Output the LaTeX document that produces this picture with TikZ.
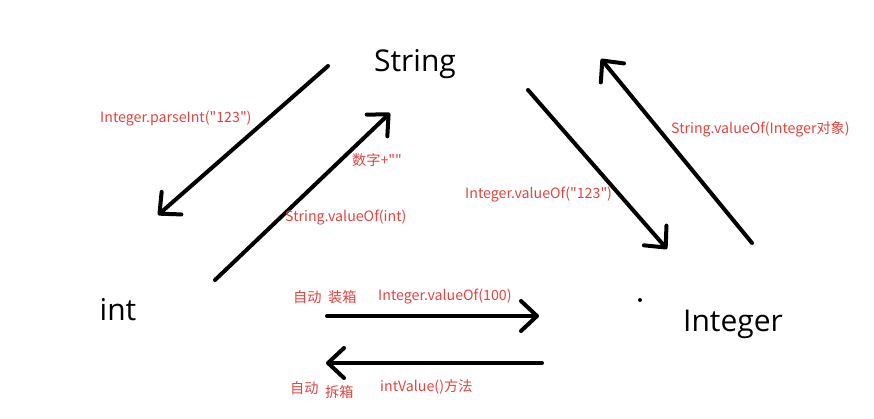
\documentclass[tikz,border=0pt]{standalone}
\usepackage{fontspec}
\setmainfont{Open Sans}
\newfontfamily\cjk{Noto Sans CJK SC}
\usetikzlibrary{arrows.meta}
\definecolor{lbl}{RGB}{228,68,62}
\tikzset{
  big/.style={font=\fontsize{30}{32}\selectfont, text=black, inner sep=0pt},
  lab/.style={font=\cjk\fontsize{14.2}{16}\selectfont, text=lbl, inner sep=0pt},
  arr/.style={line width=4pt, line cap=round, line join=round, black,
    -{Straight Barb[length=16pt,width=30pt,line cap=round,line join=round]}},
}
\begin{document}
\begin{tikzpicture}[x=1pt,y=-1pt]
\useasboundingbox (0,0) rectangle (874,418);
% main nodes
\node[big] (str) at (415,64) {String};
\node[big] (int) at (118,310) {int};
\node[big] (intg) at (733,324) {Integer};
\fill (640,300) circle (2pt);
% endpoints
\coordinate (a1) at (328,66);  \coordinate (b1) at (158,215);
\coordinate (a2) at (215,280); \coordinate (b2) at (390,113);
\coordinate (a3) at (528,90);  \coordinate (b3) at (667,249);
\coordinate (a4) at (752,243); \coordinate (b4) at (601,59);
\coordinate (a5) at (327,316); \coordinate (b5) at (539,316);
\coordinate (a6) at (542,363); \coordinate (b6) at (326,363);
\draw[arr] (a1) -- (b1);
\draw[arr] (a2) -- (b2);
\draw[arr] (a3) -- (b3);
\draw[arr] (a4) -- (b4);
\draw[arr] (a5) -- (b5);
\draw[arr] (a6) -- (b6);
% labels
\node[lab, anchor=west] (l1) at (100,118) {Integer.parseInt("123")};
\node[lab, anchor=west] (l2) at (352,160) {数字+""};
\node[lab, anchor=west] (l3) at (285,217) {String.valueOf(int)};
\node[lab, anchor=west] (l4) at (465,194) {Integer.valueOf("123")};
\node[lab, anchor=west] (l5) at (671,129) {String.valueOf(Integer对象)};
\node[lab, anchor=west] (l6) at (293,297) {自动};
\node[lab, anchor=west] (l7) at (328,297) {装箱};
\node[lab, anchor=west] (l8) at (378,296) {Integer.valueOf(100)};
\node[lab, anchor=west] (l9) at (290,388) {自动};
\node[lab, anchor=west] (l10) at (325,392) {拆箱};
\node[lab, anchor=west] (l11) at (380,387) {intValue()方法};
\end{tikzpicture}
\end{document}
